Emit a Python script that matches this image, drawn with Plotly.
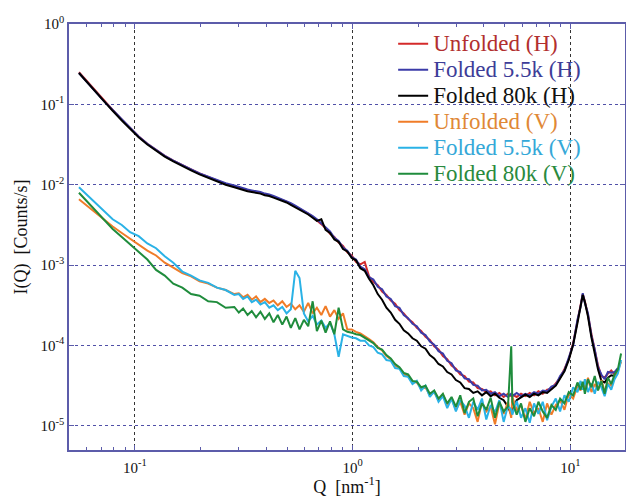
import plotly.graph_objects as go

# Scattering vector Q [nm^-1] (shared sampling grid)
q = [
    0.0553, 0.060, 0.066, 0.072, 0.079, 0.087, 0.095, 0.104, 0.114, 0.125,
    0.137, 0.150, 0.165, 0.181, 0.198, 0.217, 0.238, 0.261, 0.286,
    0.300, 0.314, 0.329, 0.344, 0.360, 0.377, 0.395, 0.414, 0.433, 0.453,
    0.475, 0.497, 0.520, 0.545, 0.570, 0.597, 0.625, 0.655, 0.685, 0.718,
    0.751, 0.787, 0.824, 0.862, 0.903, 0.945, 0.990, 1.036, 1.085, 1.136,
    1.189, 1.245, 1.304, 1.365, 1.429, 1.496, 1.567, 1.640, 1.717, 1.798,
    1.883, 1.971, 2.064, 2.161, 2.262, 2.369, 2.480, 2.597, 2.719, 2.846,
    2.980, 3.120, 3.267, 3.421, 3.581, 3.750, 3.926, 4.110, 4.304, 4.506,
    4.718, 4.939, 5.171, 5.350, 5.414, 5.669, 5.935, 6.214, 6.506, 6.812,
    7.132, 7.467, 7.818, 8.185, 8.570, 8.972, 9.394, 9.835, 10.30, 10.78,
    11.14, 11.40, 11.66, 12.05, 12.50, 12.94, 13.40, 13.88, 14.37, 14.88,
    15.41, 15.96, 16.52, 17.10,
]

# log10 of I(Q) [Counts/s]
log10_unfolded_h = [
    -0.60, -0.71, -0.84, -0.95, -1.07, -1.19, -1.30, -1.40, -1.49, -1.57,
    -1.64, -1.70, -1.76, -1.81, -1.86, -1.90, -1.95, -1.99, -2.02,
    -2.04, -2.05, -2.07, -2.08, -2.09, -2.10, -2.12, -2.13, -2.15, -2.17,
    -2.19, -2.21, -2.24, -2.27, -2.30, -2.33, -2.36, -2.40, -2.44, -2.49,
    -2.54, -2.61, -2.65, -2.72, -2.76, -2.84, -2.88, -2.96, -2.99, -2.96,
    -3.14, -3.21, -3.25, -3.33, -3.37, -3.44, -3.48, -3.56, -3.60, -3.67,
    -3.71, -3.78, -3.82, -3.89, -3.93, -4.01, -4.05, -4.13, -4.17, -4.25,
    -4.29, -4.36, -4.38, -4.45, -4.46, -4.53, -4.54, -4.58, -4.57, -4.62,
    -4.59, -4.64, -4.60, -4.63, -4.61, -4.64, -4.60, -4.63, -4.59, -4.62,
    -4.57, -4.60, -4.55, -4.54, -4.47, -4.40, -4.29, -4.17, -3.97, -3.70,
    -3.50, -3.36, -3.45, -3.62, -3.86, -4.07, -4.25, -4.38, -4.40, -4.35,
    -4.31, -4.36, -4.30,
]
log10_folded55_h = [
    -0.61, -0.72, -0.84, -0.96, -1.07, -1.19, -1.30, -1.40, -1.49, -1.57,
    -1.64, -1.70, -1.76, -1.81, -1.86, -1.90, -1.94, -1.98, -2.01,
    -2.03, -2.04, -2.06, -2.07, -2.08, -2.09, -2.11, -2.12, -2.14, -2.16,
    -2.18, -2.20, -2.23, -2.26, -2.29, -2.32, -2.35, -2.39, -2.43, -2.48,
    -2.53, -2.58, -2.66, -2.70, -2.78, -2.82, -2.90, -2.93, -3.02, -3.05,
    -3.15, -3.18, -3.27, -3.30, -3.39, -3.42, -3.51, -3.53, -3.62, -3.66,
    -3.73, -3.76, -3.84, -3.87, -3.95, -3.99, -4.07, -4.10, -4.19, -4.22,
    -4.31, -4.33, -4.41, -4.42, -4.49, -4.50, -4.56, -4.55, -4.60, -4.58,
    -4.63, -4.60, -4.64, -4.60, -4.63, -4.59, -4.63, -4.60, -4.62, -4.58,
    -4.60, -4.56, -4.57, -4.51, -4.49, -4.38, -4.31, -4.15, -3.99, -3.68,
    -3.52, -3.35, -3.47, -3.60, -3.88, -4.05, -4.27, -4.36, -4.42, -4.33,
    -4.34, -4.33, -4.28,
]
log10_folded80_h = [
    -0.61, -0.72, -0.85, -0.96, -1.08, -1.20, -1.31, -1.41, -1.50, -1.58,
    -1.65, -1.71, -1.77, -1.82, -1.87, -1.91, -1.96, -2.00, -2.03,
    -2.05, -2.06, -2.08, -2.09, -2.10, -2.11, -2.13, -2.14, -2.16, -2.18,
    -2.20, -2.22, -2.25, -2.28, -2.31, -2.34, -2.37, -2.41, -2.45, -2.43,
    -2.56, -2.60, -2.68, -2.71, -2.80, -2.83, -2.91, -2.94, -3.04, -3.07,
    -3.17, -3.25, -3.36, -3.43, -3.53, -3.59, -3.68, -3.73, -3.81, -3.85,
    -3.91, -3.94, -4.01, -4.04, -4.12, -4.16, -4.23, -4.26, -4.33, -4.36,
    -4.43, -4.46, -4.53, -4.54, -4.59, -4.57, -4.62, -4.58, -4.63, -4.60,
    -4.65, -4.68, -4.76, -4.86, -4.80, -4.68, -4.64, -4.61, -4.64, -4.60,
    -4.62, -4.58, -4.59, -4.54, -4.50, -4.41, -4.32, -4.18, -3.99, -3.72,
    -3.51, -3.37, -3.46, -3.64, -3.90, -4.10, -4.30, -4.44, -4.46, -4.40,
    -4.37, -4.38, -4.30,
]
log10_unfolded_v = [
    -2.18, -2.26, -2.35, -2.43, -2.52, -2.60, -2.67, -2.74, -2.82, -2.88,
    -2.97, -3.03, -3.10, -3.14, -3.20, -3.23, -3.28, -3.31, -3.36,
    -3.35, -3.40, -3.37, -3.43, -3.39, -3.46, -3.42, -3.47, -3.44, -3.50,
    -3.45, -3.52, -3.48, -3.55, -3.50, -3.58, -3.47, -3.60, -3.53, -3.62,
    -3.51, -3.64, -3.56, -3.67, -3.60, -3.80, -3.80, -3.83, -3.85, -3.88,
    -3.92, -3.96, -4.02, -4.06, -4.13, -4.17, -4.25, -4.28, -4.36, -4.38,
    -4.45, -4.46, -4.54, -4.52, -4.62, -4.58, -4.68, -4.61, -4.74, -4.66,
    -4.80, -4.70, -4.86, -4.72, -4.78, -4.95, -4.70, -4.82, -4.76, -4.98,
    -4.72, -4.85, -4.70, -4.90, -4.64, -4.80, -4.74, -4.92, -4.70, -4.84,
    -4.78, -4.95, -4.72, -4.86, -4.74, -4.68, -4.80, -4.60, -4.66, -4.50,
    -4.56, -4.46, -4.54, -4.40, -4.58, -4.48, -4.55, -4.43, -4.57, -4.47,
    -4.50, -4.40, -4.32, -4.20,
]
log10_folded55_v = [
    -2.03, -2.12, -2.23, -2.32, -2.43, -2.50, -2.59, -2.64, -2.73, -2.79,
    -2.89, -2.97, -3.08, -3.13, -3.19, -3.22, -3.28, -3.31, -3.37,
    -3.36, -3.42, -3.39, -3.46, -3.43, -3.49, -3.46, -3.53, -3.50, -3.56,
    -3.52, -3.60, -3.55, -3.07, -3.16, -3.60, -3.70, -3.63, -3.74, -3.69,
    -3.78, -3.72, -3.86, -4.14, -3.86, -3.88, -3.90, -3.91, -3.94, -3.94,
    -4.00, -4.02, -4.09, -4.11, -4.18, -4.19, -4.28, -4.29, -4.38, -4.39,
    -4.48, -4.44, -4.56, -4.50, -4.64, -4.57, -4.70, -4.63, -4.78, -4.66,
    -4.82, -4.68, -4.75, -4.90, -4.70, -4.80, -4.66, -4.92, -4.74, -4.83,
    -4.68, -4.95, -4.75, -4.80, -4.86, -4.69, -4.90, -4.78, -4.96, -4.72,
    -4.85, -4.70, -4.93, -4.76, -4.66, -4.82, -4.62, -4.70, -4.52, -4.58,
    -4.44, -4.55, -4.42, -4.58, -4.47, -4.60, -4.45, -4.52, -4.63, -4.48,
    -4.55, -4.42, -4.35, -4.18,
]
log10_folded80_v = [
    -2.10, -2.20, -2.32, -2.43, -2.55, -2.65, -2.74, -2.84, -2.93, -3.06,
    -3.13, -3.23, -3.28, -3.36, -3.38, -3.45, -3.46, -3.53, -3.52,
    -3.59, -3.54, -3.62, -3.57, -3.65, -3.58, -3.67, -3.60, -3.71, -3.62,
    -3.74, -3.64, -3.78, -3.66, -3.80, -3.68, -3.76, -3.45, -3.82, -3.69,
    -3.84, -3.70, -3.86, -3.53, -3.80, -3.83, -3.84, -3.86, -3.87, -3.90,
    -3.94, -3.97, -4.03, -4.05, -4.12, -4.16, -4.23, -4.27, -4.34, -4.36,
    -4.44, -4.45, -4.52, -4.50, -4.60, -4.56, -4.66, -4.60, -4.72, -4.64,
    -4.76, -4.62, -4.84, -4.70, -4.66, -4.88, -4.72, -4.80, -4.65, -4.90,
    -4.70, -4.82, -4.76, -4.01, -4.70, -4.86, -4.72, -4.95, -4.78, -4.88,
    -4.70, -4.82, -4.90, -4.74, -4.80, -4.66, -4.72, -4.58, -4.62, -4.46,
    -4.55, -4.45, -4.60, -4.42, -4.52, -4.38, -4.56, -4.44, -4.60, -4.40,
    -4.48, -4.36, -4.30, -4.10,
]

series_names = [
    "Unfolded (H)", "Folded 5.5k (H)", "Folded 80k (H)",
    "Unfolded (V)", "Folded 5.5k (V)", "Folded 80k (V)",
]
series_values = [
    log10_unfolded_h, log10_folded55_h, log10_folded80_h,
    log10_unfolded_v, log10_folded55_v, log10_folded80_v,
]
line_colors = ["#d42a2a", "#3b3ba8", "#000000", "#f07c28", "#2ab2e6", "#1f8c3c"]
text_colors = ["#b22f2f", "#3d3d98", "#111111", "#e08836", "#35a8d8", "#2a8a3e"]

x_tick_vals = [0.1, 1, 10]
x_tick_labels = ["10<sup>-1</sup>", "10<sup>0</sup>", "10<sup>1</sup>"]
y_tick_vals = [1e-5, 1e-4, 1e-3, 1e-2, 1e-1, 1]
y_tick_labels = ["10<sup>-5</sup>", "10<sup>-4</sup>", "10<sup>-3</sup>",
                 "10<sup>-2</sup>", "10<sup>-1</sup>", "10<sup>0</sup>"]

SERIF = "Liberation Serif, Times New Roman, serif"
AXIS_COLOR = "#5c5caa"

fig = go.Figure()
for name, vals, lc, tc in zip(series_names, series_values, line_colors, text_colors):
    fig.add_trace(go.Scatter(
        x=q[:len(vals)],
        y=[10 ** v for v in vals],
        mode="lines",
        line=dict(color=lc, width=2),
        name=f'<span style="font-size:23px;color:{tc}">{name}</span>',
    ))

minor_x = [m * 10.0 ** e for e in (-2, -1, 0, 1) for m in range(2, 10)]

fig.update_xaxes(
    type="log", range=[-1.303, 1.251], automargin=False,
    tickmode="array", tickvals=x_tick_vals, ticktext=x_tick_labels,
    ticks="inside", ticklen=5, tickcolor=AXIS_COLOR, ticklabelstandoff=3,
    showline=True, linecolor=AXIS_COLOR, linewidth=1.5, mirror="ticks",
    showgrid=True, gridcolor="#333333", griddash="dot", gridwidth=1,
    zeroline=False,
    minor=dict(tickmode="array", tickvals=minor_x, ticks="inside", ticklen=3,
               tickcolor=AXIS_COLOR, showgrid=False),
    tickfont=dict(family=SERIF, size=15, color="#111111"),
    title=dict(text="Q  [nm<sup>-1</sup>]", font=dict(family=SERIF, size=18, color="#111111"), standoff=4),
)
fig.update_yaxes(
    type="log", range=[-5.3, 0], automargin=False,
    tickmode="array", tickvals=y_tick_vals, ticktext=y_tick_labels,
    ticks="inside", ticklen=5, tickcolor=AXIS_COLOR,
    showline=True, linecolor=AXIS_COLOR, linewidth=1.5, mirror="ticks",
    showgrid=True, gridcolor="#5050a8", griddash="dot", gridwidth=1,
    zeroline=False,
    tickfont=dict(family=SERIF, size=15, color="#111111"),
    title=dict(text="I(Q)  [Counts/s]", font=dict(family=SERIF, size=18, color="#111111"), standoff=8),
)

fig.update_layout(
    width=626, height=497,
    margin=dict(l=69, r=1, t=24, b=47, autoexpand=False),
    paper_bgcolor="white", plot_bgcolor="white",
    font=dict(family=SERIF, size=15, color="#111111"),
    showlegend=True,
    legend=dict(
        x=0.583, xanchor="left", y=0.996, yanchor="top",
        bgcolor="rgba(0,0,0,0)", borderwidth=0,
        font=dict(family=SERIF, size=17.7, color="#111111"),
        itemwidth=30, tracegroupgap=0,
    ),
)

# remove the browser's default 8px page margin so the figure fills the window
fig.write_html(
    "out.html",
    config={"displayModeBar": False},
    post_script="document.body.style.margin='0px';",
)
